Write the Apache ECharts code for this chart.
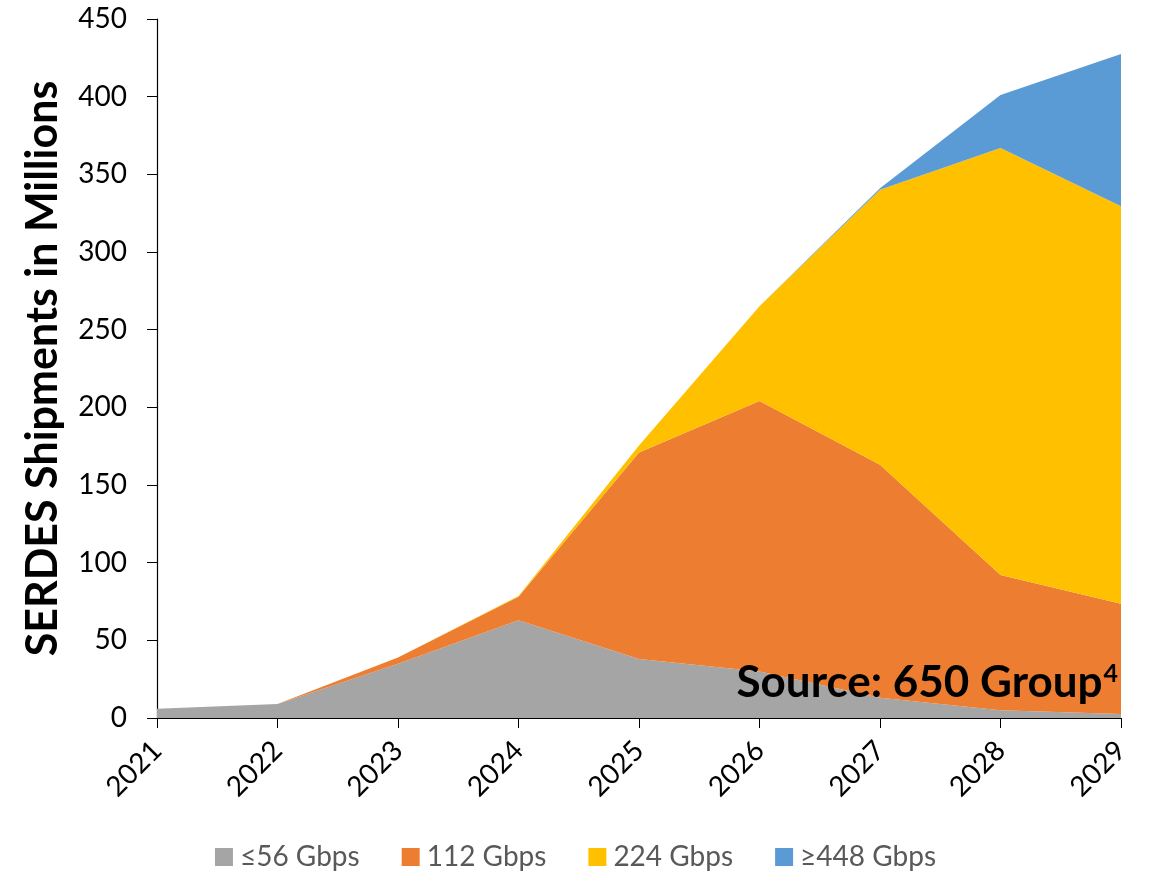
<!DOCTYPE html>
<html>
<head>
<meta charset="utf-8">
<style>
  html, body { margin: 0; padding: 0; background: #fff; }
  #chart { width: 1151px; height: 873px; }
</style>
<script src="https://cdn.jsdelivr.net/npm/echarts@6/dist/echarts.min.js"></script>
</head>
<body>
<div id="chart"></div>
<script>
// SERDES shipments by lane speed, millions of units
const years = ['2021', '2022', '2023', '2024', '2025', '2026', '2027', '2028', '2029'];
const le56 = [6, 9, 35, 63, 38, 30, 13, 5, 2.5];
const g112 = [0, 0, 4, 15, 133, 174, 150, 87, 71];
const g224 = [0, 0, 0, 0.5, 4.5, 61, 177, 275, 256];
const ge448 = [0, 0, 0, 0, 0, 0, 1, 34, 98];
const seriesNames = ['≤56 Gbps', '112 Gbps', '224 Gbps', '≥448 Gbps'];
const seriesColors = ['#A5A5A5', '#ED7D31', '#FFC000', '#5B9BD5'];
const yTicks = { min: 0, max: 450, interval: 50 };

const font = 'Lato, "Open Sans", "Liberation Sans", sans-serif';
const chart = echarts.init(document.getElementById('chart'), null, { renderer: 'canvas' });

const makeArea = (name, data, color) => ({
  name,
  type: 'line',
  stack: 'total',
  data,
  symbol: 'none',
  lineStyle: { width: 0 },
  itemStyle: { color },
  areaStyle: { color, opacity: 1 },
  emphasis: { disabled: true }
});

chart.setOption({
  animation: false,
  backgroundColor: '#ffffff',
  grid: { left: 157, right: 30, top: 19, bottom: 155, containLabel: false },
  legend: {
    top: 838,
    left: 'center',
    itemWidth: 18,
    itemHeight: 18,
    itemGap: 42,
    icon: 'rect',
    textStyle: { fontFamily: font, fontSize: 28, color: '#595959', padding: [0, 0, 0, 2] },
    data: seriesNames
  },
  xAxis: {
    type: 'category',
    data: years,
    boundaryGap: false,
    axisLine: { lineStyle: { color: '#000', width: 1.2 } },
    axisTick: { show: true, alignWithLabel: true, length: 10, lineStyle: { color: '#000' } },
    axisLabel: { rotate: 45, fontFamily: font, fontSize: 28, color: '#000', margin: 28 },
    splitLine: { show: false }
  },
  yAxis: {
    type: 'value',
    min: yTicks.min,
    max: yTicks.max,
    interval: yTicks.interval,
    name: 'SERDES Shipments in Millions',
    nameLocation: 'middle',
    nameGap: 92,
    nameTextStyle: { fontFamily: font, fontSize: 43, fontWeight: 'bold', color: '#000' },
    axisLine: { show: true, lineStyle: { color: '#000', width: 1.2 } },
    axisTick: { show: true, length: 10, lineStyle: { color: '#000' } },
    axisLabel: { fontFamily: font, fontSize: 28, color: '#000', margin: 30 },
    splitLine: { show: false }
  },
  series: [
    makeArea(seriesNames[0], le56, seriesColors[0]),
    makeArea(seriesNames[1], g112, seriesColors[1]),
    makeArea(seriesNames[2], g224, seriesColors[2]),
    makeArea(seriesNames[3], ge448, seriesColors[3])
  ],
  graphic: [{
    type: 'text',
    right: 33,
    top: 661,
    z: 100,
    style: {
      text: '{m|Source: 650 Group}{s|4}',
      rich: {
        m: { fontFamily: font, fontSize: 44, fontWeight: 'bold', fill: '#000' },
        s: { fontFamily: font, fontSize: 25, fontWeight: 'bold', fill: '#000', verticalAlign: 'top', padding: [0, 0, 16, 1] }
      }
    }
  }]
});
</script>
</body>
</html>
